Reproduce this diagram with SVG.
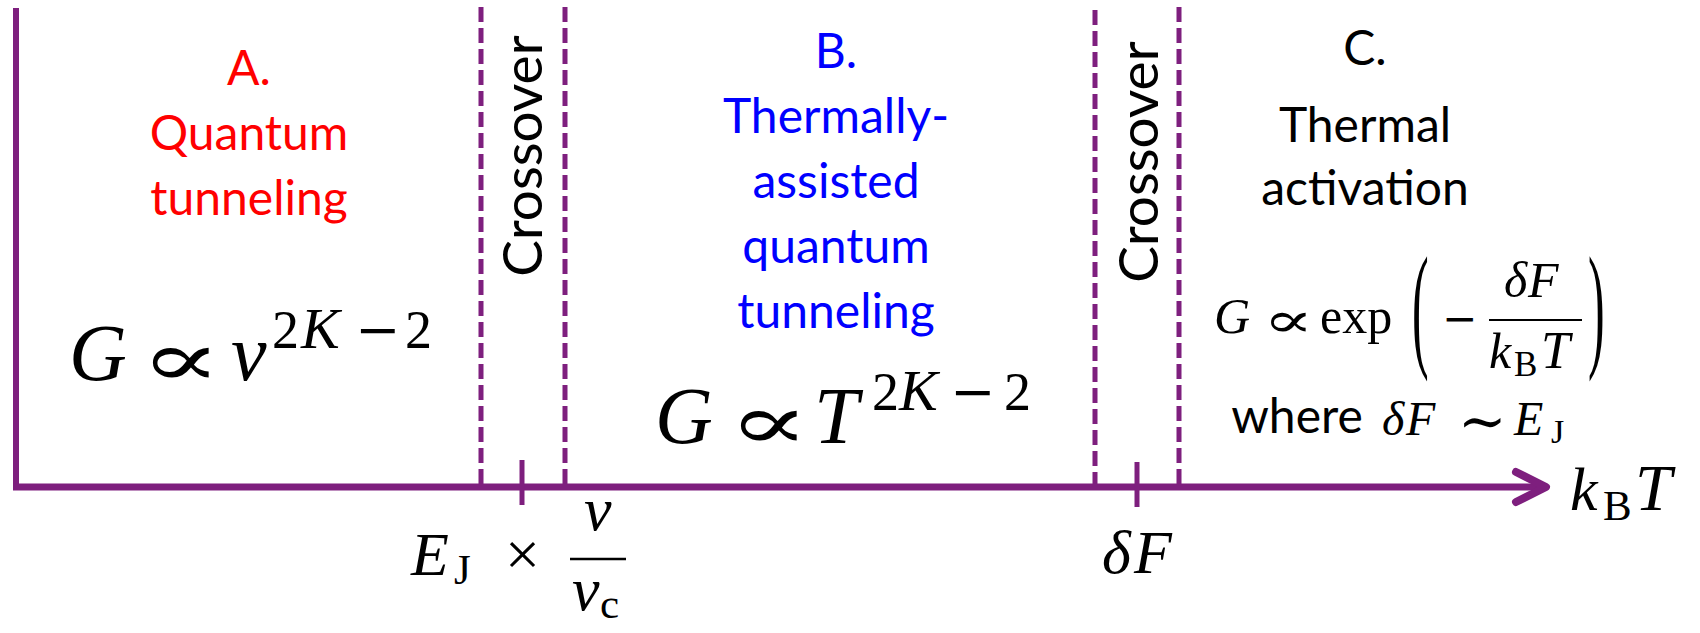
<svg xmlns="http://www.w3.org/2000/svg" width="1700" height="633" viewBox="0 0 1700 633">
<style>
.lbl{font-family:Lato,"Open Sans",sans-serif;font-size:48px;text-anchor:middle}
.cr{font-size:55px}
.red{fill:#FF0000}.blue{fill:#0000FF}.blk{fill:#000}
.m{font-family:"Liberation Serif","DejaVu Serif",serif;fill:#000}
.sym{font-family:"DejaVu Serif",serif;fill:#000}
.i{font-style:italic}
.ln{stroke:#7E1F7E;fill:none}
.dash{stroke:#7E1F7E;stroke-width:5;stroke-dasharray:15 6;fill:none}
</style>
<rect width="1700" height="633" fill="#fff"/>
<g id="connectors">
  <line class="ln" x1="16" y1="8" x2="16" y2="490" stroke-width="6"/>
  <line class="ln" x1="13" y1="487" x2="1544" y2="487" stroke-width="7"/>
  <polyline class="ln" points="1516,472 1546,487 1516,502" stroke-width="8" stroke-linecap="round" stroke-linejoin="round"/>
  <line class="dash" x1="481" y1="7" x2="481" y2="487"/>
  <line class="dash" x1="565" y1="7" x2="565" y2="487"/>
  <line class="dash" x1="1095" y1="10" x2="1095" y2="487"/>
  <line class="dash" x1="1179" y1="7" x2="1179" y2="487"/>
  <line class="ln" x1="522" y1="460" x2="522" y2="505" stroke-width="5"/>
  <line class="ln" x1="1137" y1="462" x2="1137" y2="507" stroke-width="5"/>
</g>
<g id="region-a">
  <text class="lbl red" x="249" y="85">A.</text>
  <text class="lbl red" x="249" y="150">Quantum</text>
  <text class="lbl red" x="249" y="215">tunneling</text>
  <text class="m i" x="69" y="380" font-size="80">G</text>
  <text class="sym" font-size="78" transform="translate(140,386) scale(1.55,1)">∝</text>
  <text class="m i" x="231" y="380" font-size="80">v</text>
  <text class="m" y="348" font-size="54"><tspan x="272">2</tspan><tspan x="301" class="i" font-size="58">K</tspan></text>
  <text class="sym" x="355" y="348" font-size="54">−</text>
  <text class="m" x="405" y="348" font-size="54">2</text>
</g>
<g id="crossover-1">
  <text class="lbl cr blk" transform="translate(542,156) rotate(-90)">Crossover</text>
</g>
<g id="region-b">
  <text class="lbl blue" x="836" y="68">B.</text>
  <text class="lbl blue" x="836" y="133">Thermally-</text>
  <text class="lbl blue" x="836" y="198">assisted</text>
  <text class="lbl blue" x="836" y="263">quantum</text>
  <text class="lbl blue" x="836" y="328">tunneling</text>
  <text class="m i" x="655" y="443" font-size="80">G</text>
  <text class="sym" font-size="78" transform="translate(728,449) scale(1.55,1)">∝</text>
  <text class="m i" x="814" y="443" font-size="80">T</text>
  <text class="m" y="410" font-size="54"><tspan x="872">2</tspan><tspan x="899" class="i" font-size="58">K</tspan></text>
  <text class="sym" x="950" y="410" font-size="54">−</text>
  <text class="m" x="1004" y="410" font-size="54">2</text>
</g>
<g id="crossover-2">
  <text class="lbl cr blk" transform="translate(1158,162) rotate(-90)">Crossover</text>
</g>
<g id="region-c">
  <text class="lbl blk" x="1365" y="65">C.</text>
  <text class="lbl blk" x="1365" y="142">Thermal</text>
  <text class="lbl blk" x="1365" y="205">activation</text>
  <text class="m i" x="1214" y="333" font-size="50">G</text>
  <text class="sym" font-size="50" transform="translate(1263,337) scale(1.5,1)">∝</text>
  <text class="m" x="1320" y="333" font-size="50">exp</text>
  <text class="m" font-size="50" transform="translate(1412,352) scale(1,2.75)">(</text>
  <text class="m" font-size="50" transform="translate(1588,352) scale(1,2.75)">)</text>
  <text class="sym" x="1442" y="333" font-size="42">−</text>
  <line x1="1489" y1="320" x2="1582" y2="320" stroke="#000" stroke-width="2"/>
  <text class="m i" y="297" font-size="50"><tspan x="1504">δ</tspan><tspan x="1528">F</tspan></text>
  <text class="m" font-size="50"><tspan x="1489" y="368" class="i">k</tspan><tspan x="1514" y="376" font-size="35">B</tspan><tspan x="1541" y="368" class="i" font-size="52">T</tspan></text>
  <text class="lbl blk" x="1297" y="433" font-size="40">where</text>
  <text class="m i" y="435" font-size="48"><tspan x="1382">δ</tspan><tspan x="1406">F</tspan></text>
  <text class="sym" x="1458" y="441" font-size="58">∼</text>
  <text class="m" font-size="48"><tspan x="1514" y="435" class="i">E</tspan><tspan x="1551" y="443" font-size="34">J</tspan></text>
</g>
<g id="axis-labels">
  <text class="m" font-size="62"><tspan x="411" y="575" class="i">E</tspan><tspan x="454" y="584" font-size="43">J</tspan><tspan x="505" y="575">×</tspan></text>
  <line x1="570" y1="559" x2="626" y2="559" stroke="#000" stroke-width="2.5"/>
  <text class="m i" x="584" y="530" font-size="62">v</text>
  <text class="m" font-size="62"><tspan x="572" y="610" class="i">v</tspan><tspan x="600" y="618" font-size="43">c</tspan></text>
  <text class="m i" font-size="62" y="573"><tspan x="1102">δ</tspan><tspan x="1134">F</tspan></text>
  <text class="m" font-size="62"><tspan x="1570" y="510" class="i">k</tspan><tspan x="1603" y="520" font-size="43">B</tspan><tspan x="1635" y="510" class="i" font-size="66">T</tspan></text>
</g>
</svg>
